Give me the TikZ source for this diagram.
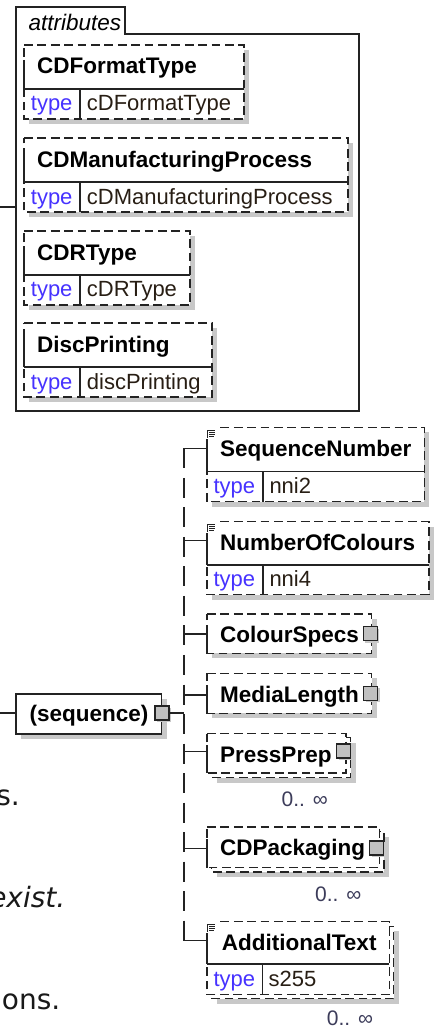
\documentclass[tikz,border=0pt]{standalone}
\usepackage{fontspec}
\setmainfont{Liberation Sans}
\newfontfamily\dvs{DejaVu Sans}
\definecolor{lc}{RGB}{35,35,35}
\definecolor{shc}{RGB}{200,200,200}
\definecolor{typec}{RGB}{70,50,255}
\definecolor{valc}{RGB}{40,30,20}
\definecolor{occc}{RGB}{60,60,90}
\definecolor{sqc}{RGB}{192,192,192}
\tikzset{
  ln/.style={draw=lc, line width=1.3pt},
  dsh/.style={draw=lc, line width=1.3pt, dash pattern=on 8.8pt off 4.6pt},
  trunk/.style={draw=lc, line width=1.3pt, dash pattern=on 20pt off 9.525pt},
  boxnode/.style={draw=none, fill=white, inner sep=0pt, outer sep=0pt, anchor=north west},
  nm/.style={font=\bfseries\fontsize{22.5}{26}\selectfont, anchor=base west, inner sep=0pt, text=black},
  tp/.style={font=\fontsize{22}{26}\selectfont, anchor=base west, inner sep=0pt, text=typec},
  vl/.style={font=\fontsize{22}{26}\selectfont, anchor=base west, inner sep=0pt, text=valc},
  occ/.style={font=\fontsize{21}{24}\selectfont, anchor=base west, inner sep=0pt, text=occc},
  sq/.style={draw=lc, fill=sqc, line width=1.3pt, minimum width=14pt, minimum height=14pt, inner sep=0pt, outer sep=0pt},
  frag/.style={font=\dvs\fontsize{28}{32}\selectfont, anchor=base east, inner sep=0pt, text=black!90},
}
% white dashed box with shadow: #1 name, #2 x1, #3 y1, #4 x2, #5 y3
\newcommand\dbox[5]{%
  \fill[shc] (#2+5,#3+5) rectangle (#4+5,#5+5);
  \node[boxnode, minimum width={#4pt-#2pt}, minimum height={#5pt-#3pt}] (#1) at (#2,#3) {};
  \draw[dsh] (#2,#3) -- (#4,#3) -- (#4,#5) -- (#2,#5) -- cycle;
}
% stacked (multiple occurrence) box: #1 name, #2 x1, #3 y1, #4 x2, #5 y3
\newcommand\stackbox[5]{%
  \fill[shc] (#2+9.5,#3+9.5) rectangle (#4+9.5,#5+9.5);
  \fill[white] (#2+4.5,#3+4.5) rectangle (#4+4.5,#5+4.5);
  \draw[dsh] (#2+4.5,#3+4.5) -- (#4+4.5,#3+4.5) -- (#4+4.5,#5+4.5) -- (#2+4.5,#5+4.5) -- cycle;
  \node[boxnode, minimum width={#4pt-#2pt}, minimum height={#5pt-#3pt}] (#1) at (#2,#3) {};
  \draw[dsh] (#2,#3) -- (#4,#3) -- (#4,#5) -- (#2,#5) -- cycle;
}
% name/type dividers: #1 x1, #2 y1, #3 x2, #4 ydiv, #5 y3, #6 xt, #7 solid-left offset
\newcommand\typerow[7]{%
  \draw[ln] (#1,#2+#7) -- (#1,#4);
  \draw[ln] (#1,#4) -- (#3,#4);
  \draw[ln] (#6,#4) -- (#6,#5);
}
% simple content icon at top-left corner #1,#2
\newcommand\simpleicon[2]{%
  \fill[white] (#1-1.5,#2-1.5) rectangle (#1+11,#2+10);
  \draw[lc, line width=1pt] (#1,#2+1.5) -- (#1,#2+9)
    (#1,#2+2) -- (#1+7.5,#2+2) (#1+2,#2+4) -- (#1+7.5,#2+4)
    (#1+2,#2+6) -- (#1+7.5,#2+6) (#1+2,#2+8) -- (#1+6.5,#2+8);
}
\begin{document}
\begin{tikzpicture}[x=1pt,y=-1pt]
\useasboundingbox (0,0) rectangle (435,1030);
\clip (0,0) rectangle (435,1030);
\fill[white] (0,0) rectangle (435,1030);

% ---------------- attributes container ----------------
\draw[ln] (16,7) -- (125,7) -- (125,34) -- (359,34) -- (359,411) -- (16,411) -- cycle;
\node[inner sep=0pt, outer sep=0pt, anchor=north west, minimum width=343pt, minimum height=377pt] (attrs) at (16,34) {};
\node[font=\itshape\fontsize{22.5}{26}\selectfont, anchor=base west, inner sep=0pt] (attrlbl) at (28.3,30.5) {attributes};
\coordinate (inAttr) at (0,207);
\draw[ln] (inAttr) -- (inAttr -| attrs.west);

% CDFormatType
\dbox{a1}{24}{45}{244}{119}
\typerow{24}{45}{244}{89}{119}{80}{15}
\node[nm] (a1n) at (37,74) {CDFormatType};
\node[tp] (a1t) at (30.7,111) {type};
\node[vl] (a1v) at (86.7,111) {cDFormatType};

% CDManufacturingProcess
\dbox{a2}{24}{138}{348}{212}
\typerow{24}{138}{348}{182}{212}{80}{15}
\node[nm] (a2n) at (37,167) {CDManufacturingProcess};
\node[tp] (a2t) at (30.7,204) {type};
\node[vl] (a2v) at (86.7,204) {cDManufacturingProcess};

% CDRType
\dbox{a3}{24}{231}{190}{305}
\typerow{24}{231}{190}{275}{305}{80}{15}
\node[nm] (a3n) at (37,260) {CDRType};
\node[tp] (a3t) at (30.7,296.7) {type};
\node[vl] (a3v) at (86.7,296.7) {cDRType};

% DiscPrinting
\dbox{a4}{24}{323}{212}{397}
\typerow{24}{323}{212}{367}{397}{80}{15}
\node[nm] (a4n) at (37,352) {DiscPrinting};
\node[tp] (a4t) at (30.7,389) {type};
\node[vl] (a4v) at (86.7,389) {discPrinting};

% ---------------- sequence ----------------
\fill[shc] (21,699) rectangle (166.7,739);
\node[boxnode, draw=lc, line width=1.3pt, minimum width=145.7pt, minimum height=40pt] (seq) at (16,694) {};
\node[nm] (seqn) at (29.5,721.5) {(sequence)};
\fill[shc] (157,707.5) rectangle (171,721.5);
\node[sq] (seqsq) at (162,713) {};
\coordinate (inSeq) at (0,713);
\draw[ln] (inSeq) -- (inSeq -| seq.west);
\coordinate (tSeq) at (184,713);
\draw[ln] (seqsq.east) -- (tSeq);
\coordinate (tTop) at (184,448.3);
\coordinate (tBot) at (184,940.7);
\draw[trunk] (tTop) -- (tBot);

% SequenceNumber
\dbox{c1}{207}{427.3}{424.3}{501.7}
\typerow{207}{427.3}{424.3}{471.7}{501.7}{263}{11}
\simpleicon{207}{428.5}
\node[nm] (c1n) at (220,456.3) {SequenceNumber};
\node[tp] (c1t) at (213.3,493.2) {type};
\node[vl] (c1v) at (269.3,493.2) {nni2};

% NumberOfColours
\dbox{c2}{207}{521.5}{429}{594.5}
\typerow{207}{521.5}{429}{565}{594.5}{263}{11}
\simpleicon{207}{522.7}
\node[nm] (c2n) at (220,550.5) {NumberOfColours};
\node[tp] (c2t) at (213.3,586) {type};
\node[vl] (c2v) at (269.3,586) {nni4};

% ColourSpecs
\dbox{c3}{207}{614}{371.7}{653.3}
\draw[ln] (207,626) -- (207,653.3);
\node[nm] (c3n) at (220,642.5) {ColourSpecs};
\fill[shc] (365.3,628.7) rectangle (379.3,642.7);
\node[sq] (c3sq) at (370.5,633.7) {};

% MediaLength
\dbox{c4}{207}{673.3}{371.7}{713.3}
\draw[ln] (207,685.3) -- (207,713.3);
\node[nm] (c4n) at (220,702) {MediaLength};
\fill[shc] (365.5,688.3) rectangle (379.5,702.3);
\node[sq] (c4sq) at (370.5,693.3) {};

% PressPrep
\stackbox{c5}{207}{733.3}{346}{773}
\draw[ln] (207,745.3) -- (207,773);
\node[nm] (c5n) at (220,762) {PressPrep};
\fill[shc] (338.7,746) rectangle (352.7,760);
\node[sq] (c5sq) at (343.7,751) {};
\node[occ] (c5o) at (281.5,806.5) {0.. ∞};

% CDPackaging
\stackbox{c6}{207}{827}{379.5}{867.5}
\draw[ln] (207,839) -- (207,867.5);
\node[nm] (c6n) at (220,855.5) {CDPackaging};
\fill[shc] (371.5,843) rectangle (385.5,857);
\node[sq] (c6sq) at (376.5,848) {};
\node[occ] (c6o) at (315,901.5) {0.. ∞};

% AdditionalText
\stackbox{c7}{207}{921.7}{389.3}{994.3}
\typerow{207}{921.7}{389.3}{964}{994.3}{262.3}{11}
\simpleicon{207}{922.9}
\node[nm] (c7n) at (221.7,950.5) {AdditionalText};
\node[tp] (c7t) at (213.3,986.5) {type};
\node[vl] (c7v) at (268.5,986.5) {s255};
\node[occ] (c7o) at (326.7,1025.5) {0.. ∞};

% connectors from trunk to children
\coordinate (k1) at (184,448.3);
\coordinate (k2) at (184,540.7);
\coordinate (k3) at (184,634);
\coordinate (k4) at (184,695);
\coordinate (k5) at (184,751.7);
\coordinate (k6) at (184,848.3);
\coordinate (k7) at (184,940.7);
\draw[ln] (k1) -- (k1 -| c1.west);
\draw[ln] (k2) -- (k2 -| c2.west);
\draw[ln] (k3) -- (k3 -| c3.west);
\draw[ln] (k4) -- (k4 -| c4.west);
\draw[ln] (k5) -- (k5 -| c5.west);
\draw[ln] (k6) -- (k6 -| c6.west);
\draw[ln] (k7) -- (k7 -| c7.west);

% text fragments at left edge (cut by the picture edge, as in the reference)
\node[frag] (f1) at (20,805) {s.};
\node[frag, font=\dvs\itshape\fontsize{28}{32}\selectfont] (f2) at (65.5,907) {exist.};
\node[frag] (f3) at (60.5,1009) {ons.};
\end{tikzpicture}
\end{document}
